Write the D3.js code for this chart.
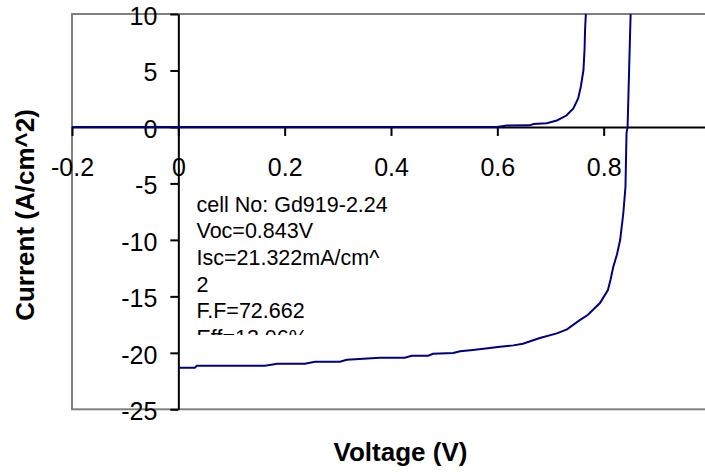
<!DOCTYPE html>
<html>
<head>
<meta charset="utf-8">
<script src="https://cdn.jsdelivr.net/npm/d3@7"></script>
<style>
  html, body { margin: 0; padding: 0; background: #fff; }
  svg { display: block; font-family: "Liberation Sans", Arial, sans-serif; }
</style>
</head>
<body>
<svg id="chart" width="705" height="472"></svg>
<script>
// ---- data ----
const xTicks = [-0.2, 0, 0.2, 0.4, 0.6, 0.8];
const yTicks = [10, 5, 0, -5, -10, -15, -20, -25];

// dark J-V curve
const darkV = [-0.2, 0.0, 0.2, 0.4, 0.599, 0.618, 0.661, 0.668, 0.693, 0.712, 0.730, 0.743, 0.752, 0.757, 0.762, 0.764, 0.765, 0.767];
const darkI = [0, 0, 0, 0, 0, 0.12, 0.14, 0.26, 0.32, 0.57, 1.01, 1.63, 2.53, 3.56, 5.04, 6.81, 8.58, 10.5];

// illuminated J-V curve
const lightV = [0, 0.031, 0.035, 0.163, 0.186, 0.238, 0.257, 0.304, 0.317, 0.379, 0.426, 0.439, 0.470, 0.479, 0.517, 0.530, 0.554, 0.586, 0.605, 0.630, 0.648, 0.680, 0.712, 0.731, 0.755, 0.770, 0.793, 0.808, 0.813, 0.818, 0.825, 0.831, 0.837, 0.841, 0.842, 0.843, 0.845, 0.848, 0.851];
const lightI = [-21.32, -21.32, -21.14, -21.14, -20.97, -20.97, -20.79, -20.79, -20.61, -20.44, -20.44, -20.26, -20.26, -20.08, -20.02, -19.87, -19.75, -19.58, -19.46, -19.34, -19.20, -18.69, -18.28, -17.92, -17.10, -16.65, -15.59, -14.44, -13.5, -12.40, -11.3, -10.01, -7.62, -5.32, -2.92, -0.54, 0.0, 5.28, 10.5];

const infoLines = ["cell No: Gd919-2.24", "Voc=0.843V", "Isc=21.322mA/cm^", "2", "F.F=72.662", "Eff=13.06%"];

const xTitle = "Voltage (V)";
const yTitle = "Current (A/cm^2)";

// ---- layout ----
const svg = d3.select("#chart");
const plot = { left: 72, top: 14, right: 710, bottom: 409.3 };
const x = d3.scaleLinear().domain([-0.2, 1.0]).range([plot.left, plot.right]);
const y = d3.scaleLinear().domain([-25, 10]).range([plot.bottom, plot.top]);
const fmt = d => (d < 0 ? "-" : "") + String(Math.abs(d));

svg.append("defs").append("clipPath").attr("id", "clip")
  .append("rect").attr("x", plot.left).attr("y", plot.top)
  .attr("width", plot.right - plot.left).attr("height", plot.bottom - plot.top);

// plot border
svg.append("rect")
  .attr("x", plot.left).attr("y", plot.top)
  .attr("width", plot.right - plot.left).attr("height", plot.bottom - plot.top)
  .attr("fill", "#fff").attr("stroke", "#808080").attr("stroke-width", 2);

// y axis at x=0
const yAxis = svg.append("g")
  .attr("transform", `translate(${x(0)},0)`)
  .call(d3.axisLeft(y).tickValues(yTicks).tickFormat(fmt).tickSize(8).tickSizeOuter(0).tickPadding(13));
// x axis at y=0
const xAxis = svg.append("g")
  .attr("transform", `translate(0,${y(0)})`)
  .call(d3.axisBottom(x).tickValues(xTicks).tickFormat(fmt).tickSize(9).tickSizeOuter(0));

[yAxis, xAxis].forEach(g => {
  g.select(".domain").attr("stroke", "#000").attr("stroke-width", 2);
  g.selectAll(".tick line").attr("stroke", "#000").attr("stroke-width", 2);
  g.selectAll(".tick text").attr("fill", "#000").attr("font-size", 25)
    .attr("font-family", "'Liberation Sans', Arial, sans-serif");
});
yAxis.selectAll(".tick text").attr("x", -21).attr("dy", "0.42em");
xAxis.selectAll(".tick text").attr("y", 49).attr("dy", 0);

// info text box (clipped at bottom, as in the original)
svg.select("defs").append("clipPath").attr("id", "infoclip")
  .append("rect").attr("x", 185).attr("y", 185).attr("width", 230).attr("height", 150);
const info = svg.append("g").attr("clip-path", "url(#infoclip)");
info.selectAll("text").data(infoLines).join("text")
  .attr("x", 196.5)
  .attr("y", (d, i) => 211.5 + i * 26.7)
  .attr("font-size", 21.5)
  .attr("fill", "#000")
  .text(d => d);

// curves
const line = d3.line().x(d => x(d[0])).y(d => y(d[1]));
const curves = svg.append("g").attr("clip-path", "url(#clip)");
curves.append("path")
  .datum(darkV.map((v, i) => [v, darkI[i]]))
  .attr("d", line).attr("fill", "none").attr("stroke", "#000080").attr("stroke-width", 2);
curves.append("path")
  .datum(lightV.map((v, i) => [v, lightI[i]]))
  .attr("d", line).attr("fill", "none").attr("stroke", "#000080").attr("stroke-width", 2);

// axis titles
svg.append("text")
  .attr("x", 400.5).attr("y", 461)
  .attr("text-anchor", "middle").attr("font-weight", "bold").attr("font-size", 26)
  .text(xTitle);
svg.append("text")
  .attr("transform", "translate(34,215) rotate(-90)")
  .attr("text-anchor", "middle").attr("font-weight", "bold").attr("font-size", 26)
  .text(yTitle);
</script>
</body>
</html>
